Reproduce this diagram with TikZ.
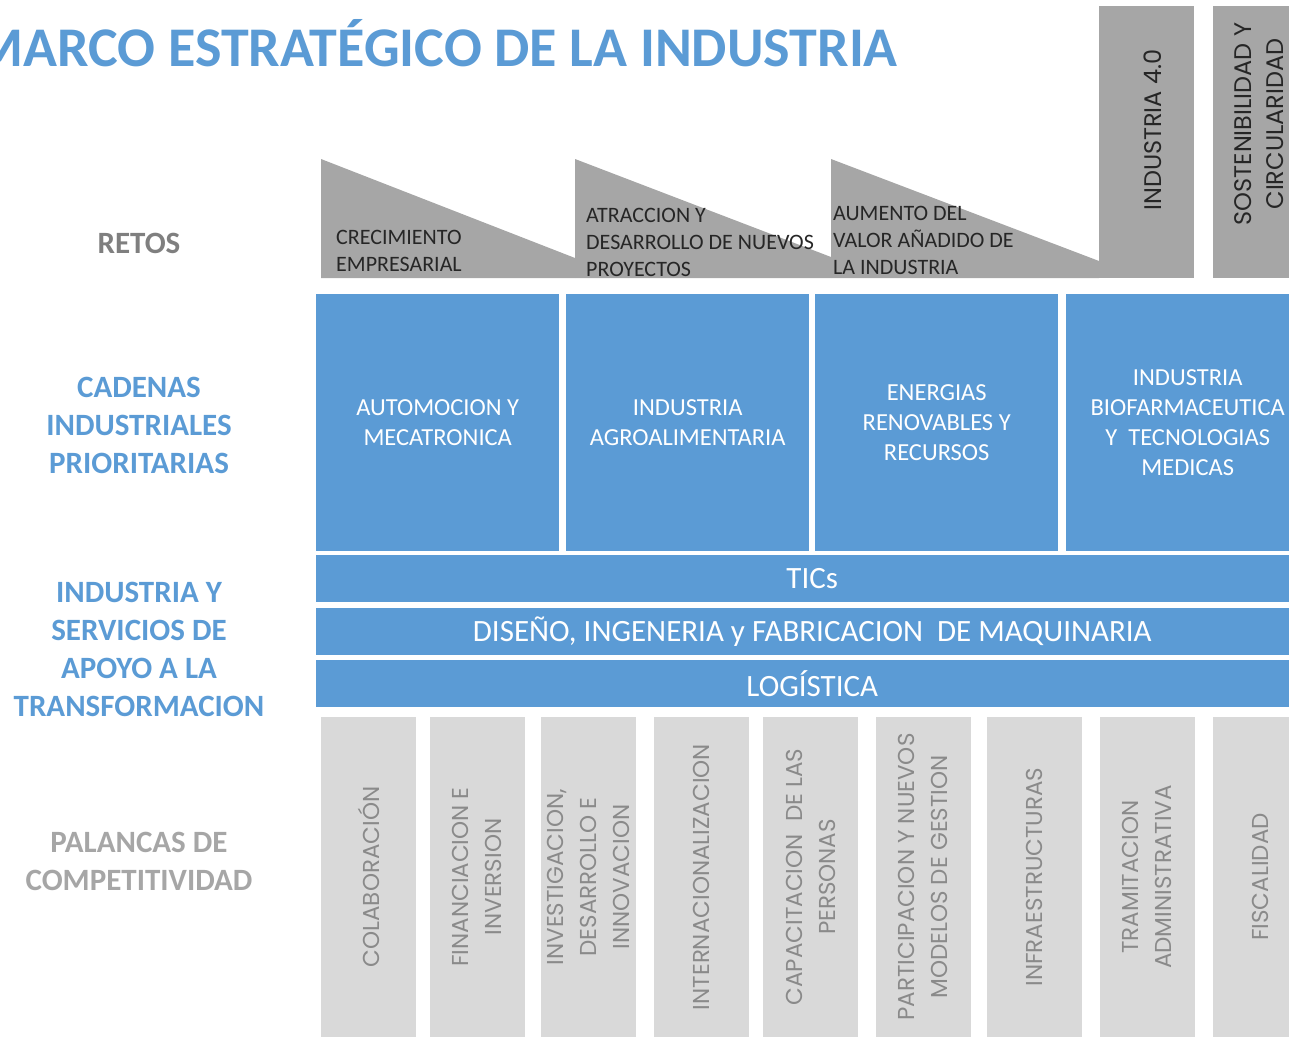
\documentclass[tikz,border=0pt]{standalone}
\usepackage{fontspec}
\setmainfont{Carlito}
\newfontfamily\gothic{Poppins}
\definecolor{azul}{HTML}{5B9BD5}
\definecolor{grisreto}{HTML}{A6A6A6}
\definecolor{grisclaro}{HTML}{D9D9D9}
\definecolor{textgris}{HTML}{8A8A8A}
\definecolor{textreto}{HTML}{262626}
\definecolor{ejegris}{HTML}{7F7F7F}
\begin{document}
\begin{tikzpicture}[x=1pt,y=-1pt,
	cadena/.style={fill=azul,text=white,font=\fontsize{24.5}{30}\selectfont,align=center,inner sep=0pt,minimum width=243pt,minimum height=257pt,anchor=north west},
	banda/.style={fill=azul,text=white,font=\fontsize{31}{34}\selectfont,inner sep=0pt,minimum width=992pt,minimum height=47pt,anchor=north west},
	palanca/.style={fill=grisclaro,text=textgris,font=\gothic\fontsize{23}{33}\selectfont,align=center,inner sep=0pt,minimum width=320pt,minimum height=95pt,rotate=90},
	eje/.style={font=\bfseries\fontsize{31}{38}\selectfont,align=center,inner sep=0pt},
	reto/.style={text=textreto,font=\fontsize{22}{27}\selectfont,align=left,inner sep=0pt,anchor=west},
	vertical/.style={text=textreto,font=\gothic\fontsize{24}{32}\selectfont,align=center,inner sep=0pt,rotate=90}]

	\useasboundingbox (0,0) rectangle (1289,1038);

	\node[font=\bfseries\fontsize{56}{60}\selectfont,text=azul,anchor=base east,inner sep=0pt] (titulo) at (898,67) {MARCO ESTRATÉGICO DE LA INDUSTRIA};

	% retos
	\fill[grisreto] (321,278) -- (321,159) -- (575,258) -- (575,278) -- cycle;
	\fill[grisreto] (575,278) -- (575,159) -- (831,257) -- (831,278) -- cycle;
	\fill[grisreto] (831,278) -- (831,159) -- (1099,261) -- (1099,278) -- cycle;
	\fill[grisreto] (1099,6) rectangle (1194,278);
	\fill[grisreto] (1213,6) rectangle (1306,278);
	\node[reto] (crecimiento) at (336,251) {CRECIMIENTO\\EMPRESARIAL};
	\node[reto] (atraccion) at (586,242) {ATRACCION Y\\DESARROLLO DE NUEVOS\\PROYECTOS};
	\node[reto] (aumento) at (833,240) {AUMENTO DEL\\VALOR AÑADIDO DE\\LA INDUSTRIA};
	\node[vertical] (ind40) at (1153,130) {INDUSTRIA 4.0};
	\node[vertical] (sost) at (1259,124) {SOSTENIBILIDAD Y\\CIRCULARIDAD};

	% ejes
	\node[eje,text=ejegris] (retos) at (139,243) {RETOS};
	\node[eje,text=azul] (cadenas) at (139,425) {CADENAS\\INDUSTRIALES\\PRIORITARIAS};
	\node[eje,text=azul] (apoyo) at (139,649) {INDUSTRIA Y\\SERVICIOS DE\\APOYO A LA\\TRANSFORMACION};
	\node[eje,text=grisreto] (palancas) at (139,861) {PALANCAS DE\\COMPETITIVIDAD};

	% cadenas
	\node[cadena] (automocion) at (316,294) {AUTOMOCION Y\\MECATRONICA};
	\node[cadena] (agro) at (566,294) {INDUSTRIA\\AGROALIMENTARIA};
	\node[cadena] (energias) at (815,294) {ENERGIAS\\RENOVABLES Y\\RECURSOS};
	\node[cadena] (biofarma) at (1066,294) {INDUSTRIA\\BIOFARMACEUTICA\\Y~~TECNOLOGIAS\\MEDICAS};

	\node[banda] (tics) at (316,555) {TICs};
	\node[banda] (diseno) at (316,608) {DISEÑO, INGENERIA y FABRICACION~~DE MAQUINARIA};
	\node[banda] (logistica) at (316,660) {LOGÍSTICA};

	% palancas
	\node[palanca] (colaboracion) at (368.5,877) {COLABORACIÓN};
	\node[palanca] (financiacion) at (477,877) {FINANCIACION E\\INVERSION};
	\node[palanca] (idi) at (588.5,877) {INVESTIGACION,\\DESARROLLO E\\INNOVACION};
	\node[palanca] (internacional) at (701,877) {INTERNACIONALIZACION};
	\node[palanca] (capacitacion) at (810.5,877) {CAPACITACION~~DE LAS\\PERSONAS};
	\node[palanca] (participacion) at (923,877) {PARTICIPACION Y NUEVOS\\MODELOS DE GESTION};
	\node[palanca] (infra) at (1034.5,877) {INFRAESTRUCTURAS};
	\node[palanca] (tramitacion) at (1147,877) {TRAMITACION\\ADMINISTRATIVA};
	\node[palanca] (fiscalidad) at (1260.5,877) {FISCALIDAD};

\end{tikzpicture}
\end{document}
